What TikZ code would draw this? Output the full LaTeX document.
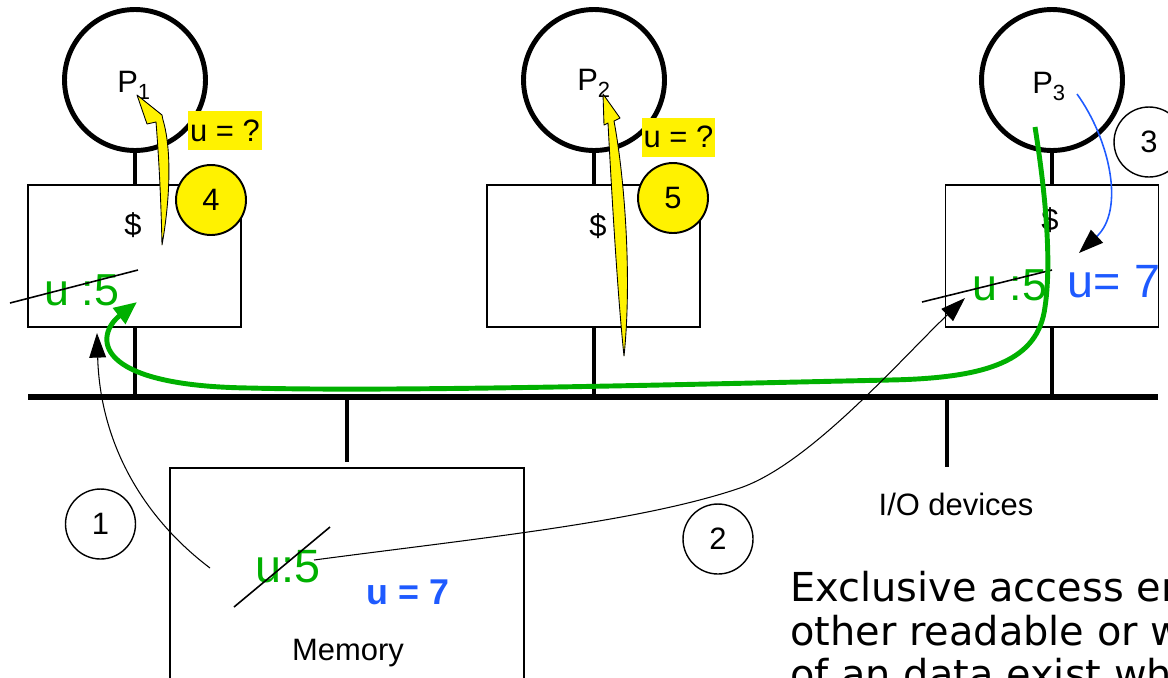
\documentclass[tikz,border=0pt]{standalone}
\usepackage{fontspec}
\setmainfont{Liberation Sans}
\newfontfamily\notefont{DejaVu Sans}
\usepackage{xcolor}
\usetikzlibrary{arrows.meta, positioning}
\definecolor{cachegreen}{RGB}{0,176,0}
\definecolor{writeblue}{RGB}{30,90,255}
\newcommand{\labsize}{\fontsize{17.6}{21}\selectfont}
\newcommand{\valsize}{\fontsize{25.5}{30}\selectfont}
\newcommand{\procname}[1]{P\raisebox{-4.5pt}{\fontsize{12.5}{12.5}\selectfont #1}}

\begin{document}
\begin{tikzpicture}[x=0.02cm, y=-0.02cm,
    proc/.style={circle, draw, line width=2.8pt, minimum size=2.82cm, inner sep=0pt},
    proclab/.style={font=\labsize, anchor=base west, inner sep=0pt},
    cache/.style={rectangle, draw, line width=0.9pt, minimum width=4.26cm, minimum height=2.84cm},
    stem/.style={line width=2.6pt},
    busline/.style={line width=3pt},
    stepno/.style={circle, draw, line width=0.8pt, minimum size=1.4cm, inner sep=0pt, font=\labsize},
    hot/.style={stepno, fill=yellow, line width=1.1pt},
    query/.style={fill=yellow, inner xsep=1pt, minimum height=0.78cm, font=\labsize},
    oldval/.style={text=cachegreen, font=\valsize, anchor=base},
    newval/.style={text=writeblue, font=\fontsize{26.6}{30}\selectfont, anchor=base},
    strike/.style={line width=0.9pt},
    msg/.style={line width=0.6pt, -{Triangle[length=14pt, width=9.5pt]}},
    readarrow/.style={fill=yellow, draw=black, line width=0.5pt, line join=round},
    greenflow/.style={cachegreen, line width=2.8pt, -{Triangle[length=13pt, width=11pt]}},
    note/.style={font=\notefont\fontsize{22.7}{26}\selectfont, anchor=base west, inner sep=0pt},
    ]
\useasboundingbox (0,0) rectangle (1168,677);

% bus and memory
\coordinate (busL) at (28,397);
\coordinate (busR) at (1158,397);
\draw[busline] (busL) -- (busR);
\node[cache, minimum width=7.08cm, minimum height=4.64cm] (mem) at (347,584) {};
\draw[stem] (mem.north |- busL) -- ++(0,65);
\node[font=\labsize, anchor=base] (memlab) at (348,660) {Memory};
\coordinate (io) at (947,467);
\draw[stem] (io |- busL) -- (io);
\node[font=\labsize, anchor=base] (iolab) at (956,515) {I/O devices};

% processors with caches
\node[cache] (c1) at (134.5,256) {};
\node[cache] (c2) at (593.5,256) {};
\node[cache] (c3) at (1052,256) {};
\node[proc] (p1) at (135,80) {};
\node[proc] (p2) at (594,80) {};
\node[proc] (p3) at (1052,80) {};
\node[proclab] (pl1) at (117,92) {\procname{1}};
\node[proclab] (pl2) at (577,90) {\procname{2}};
\node[proclab] (pl3) at (1032,93) {\procname{3}};
\foreach \n in {1,2,3} {
  \draw[stem] (p\n.south) -- (p\n.south |- c\n.north);
  \draw[stem] (p\n.south |- c\n.south) -- (p\n.south |- busL);
}
\node[font=\labsize] (d1) at (133,225) {\$};
\node[font=\labsize] (d2) at (598,226) {\$};
\node[font=\labsize] (d3) at (1050,220) {\$};

% values
\node[oldval] (u1) at (82,305) {u :5};
\draw[strike] (10,303) -- (138,270);
\node[oldval] (u3) at (1010,300) {u :5};
\node[newval] (w3) at (1114,297) {u= 7};
\draw[strike] (922,302) -- (1052,270);
\node[oldval, font=\fontsize{26.6}{30}\selectfont] (um) at (288,582) {u:5};
\draw[strike] (234,607) -- (330,527);
\node[text=writeblue, font=\bfseries\fontsize{20.4}{24}\selectfont, anchor=base] (wm) at (408,604) {u = 7};

% reads
\node[query] (q1) at (225,130.5) {u = ?};
\node[query] (q2) at (678.5,137) {u = ?};

% step numbers
\node[stepno] (s1) at (100.5,524) {1};
\node[stepno] (s2) at (718,539) {2};
\node[stepno] (s3) at (1149,142) {3};
\node[hot] (s4) at (211,200) {4};
\node[hot] (s5) at (673,198) {5};

% yellow read arrows
\coordinate (y1s) at (162,245);
\coordinate (y1e) at (137,95);
\filldraw[readarrow] (y1s) .. controls (161,200) and (159,160) .. (156,122) -- (147,124) -- (y1e)
  -- (162,115) -- (163,120) .. controls (172,150) and (170,200) .. (y1s) -- cycle;
\coordinate (y2s) at (624,356);
\coordinate (y2e) at (603,94);
\filldraw[readarrow] (y2s) .. controls (618,300) and (612,200) .. (608,123) -- (604,125) -- (y2e)
  -- (620,118) -- (614,121) .. controls (625,180) and (632,280) .. (y2s) -- cycle;

% write-back from P3 to P1
\coordinate (g3) at (1035,127);
\coordinate (g1) at (137,302);
\draw[greenflow] (g3) .. controls (1045,190) and (1052,260) .. (1045,307)
  .. controls (1038,360) and (990,378) .. (890,380)
  .. controls (700,384) and (400,392) .. (250,388)
  .. controls (90,386) and (95,335) .. (g1);

% misses
\coordinate (a1s) at (210,568);
\coordinate (a1e) at (97,333);
\draw[msg] (a1s) .. controls (140,515) and (100,440) .. (a1e);
\coordinate (a2s) at (314,560);
\coordinate (a2e) at (965,298);
\draw[msg] (a2s) .. controls (480,538) and (640,522) .. (740,488)
  .. controls (810,464) and (900,360) .. (a2e);

% write by P3
\coordinate (b3s) at (1077,94);
\coordinate (b3e) at (1079,253);
\draw[writeblue, line width=0.9pt, -{Triangle[length=14pt, width=10pt, color=black]}]
  (b3s) .. controls (1110,140) and (1125,210) .. (b3e);

% note
\node[note] (t1) at (790,601) {Exclusive access en};
\node[note] (t2) at (790,645) {other readable or w};
\node[note] (t3) at (790,688) {of an data exist wh};

\end{tikzpicture}
\end{document}
